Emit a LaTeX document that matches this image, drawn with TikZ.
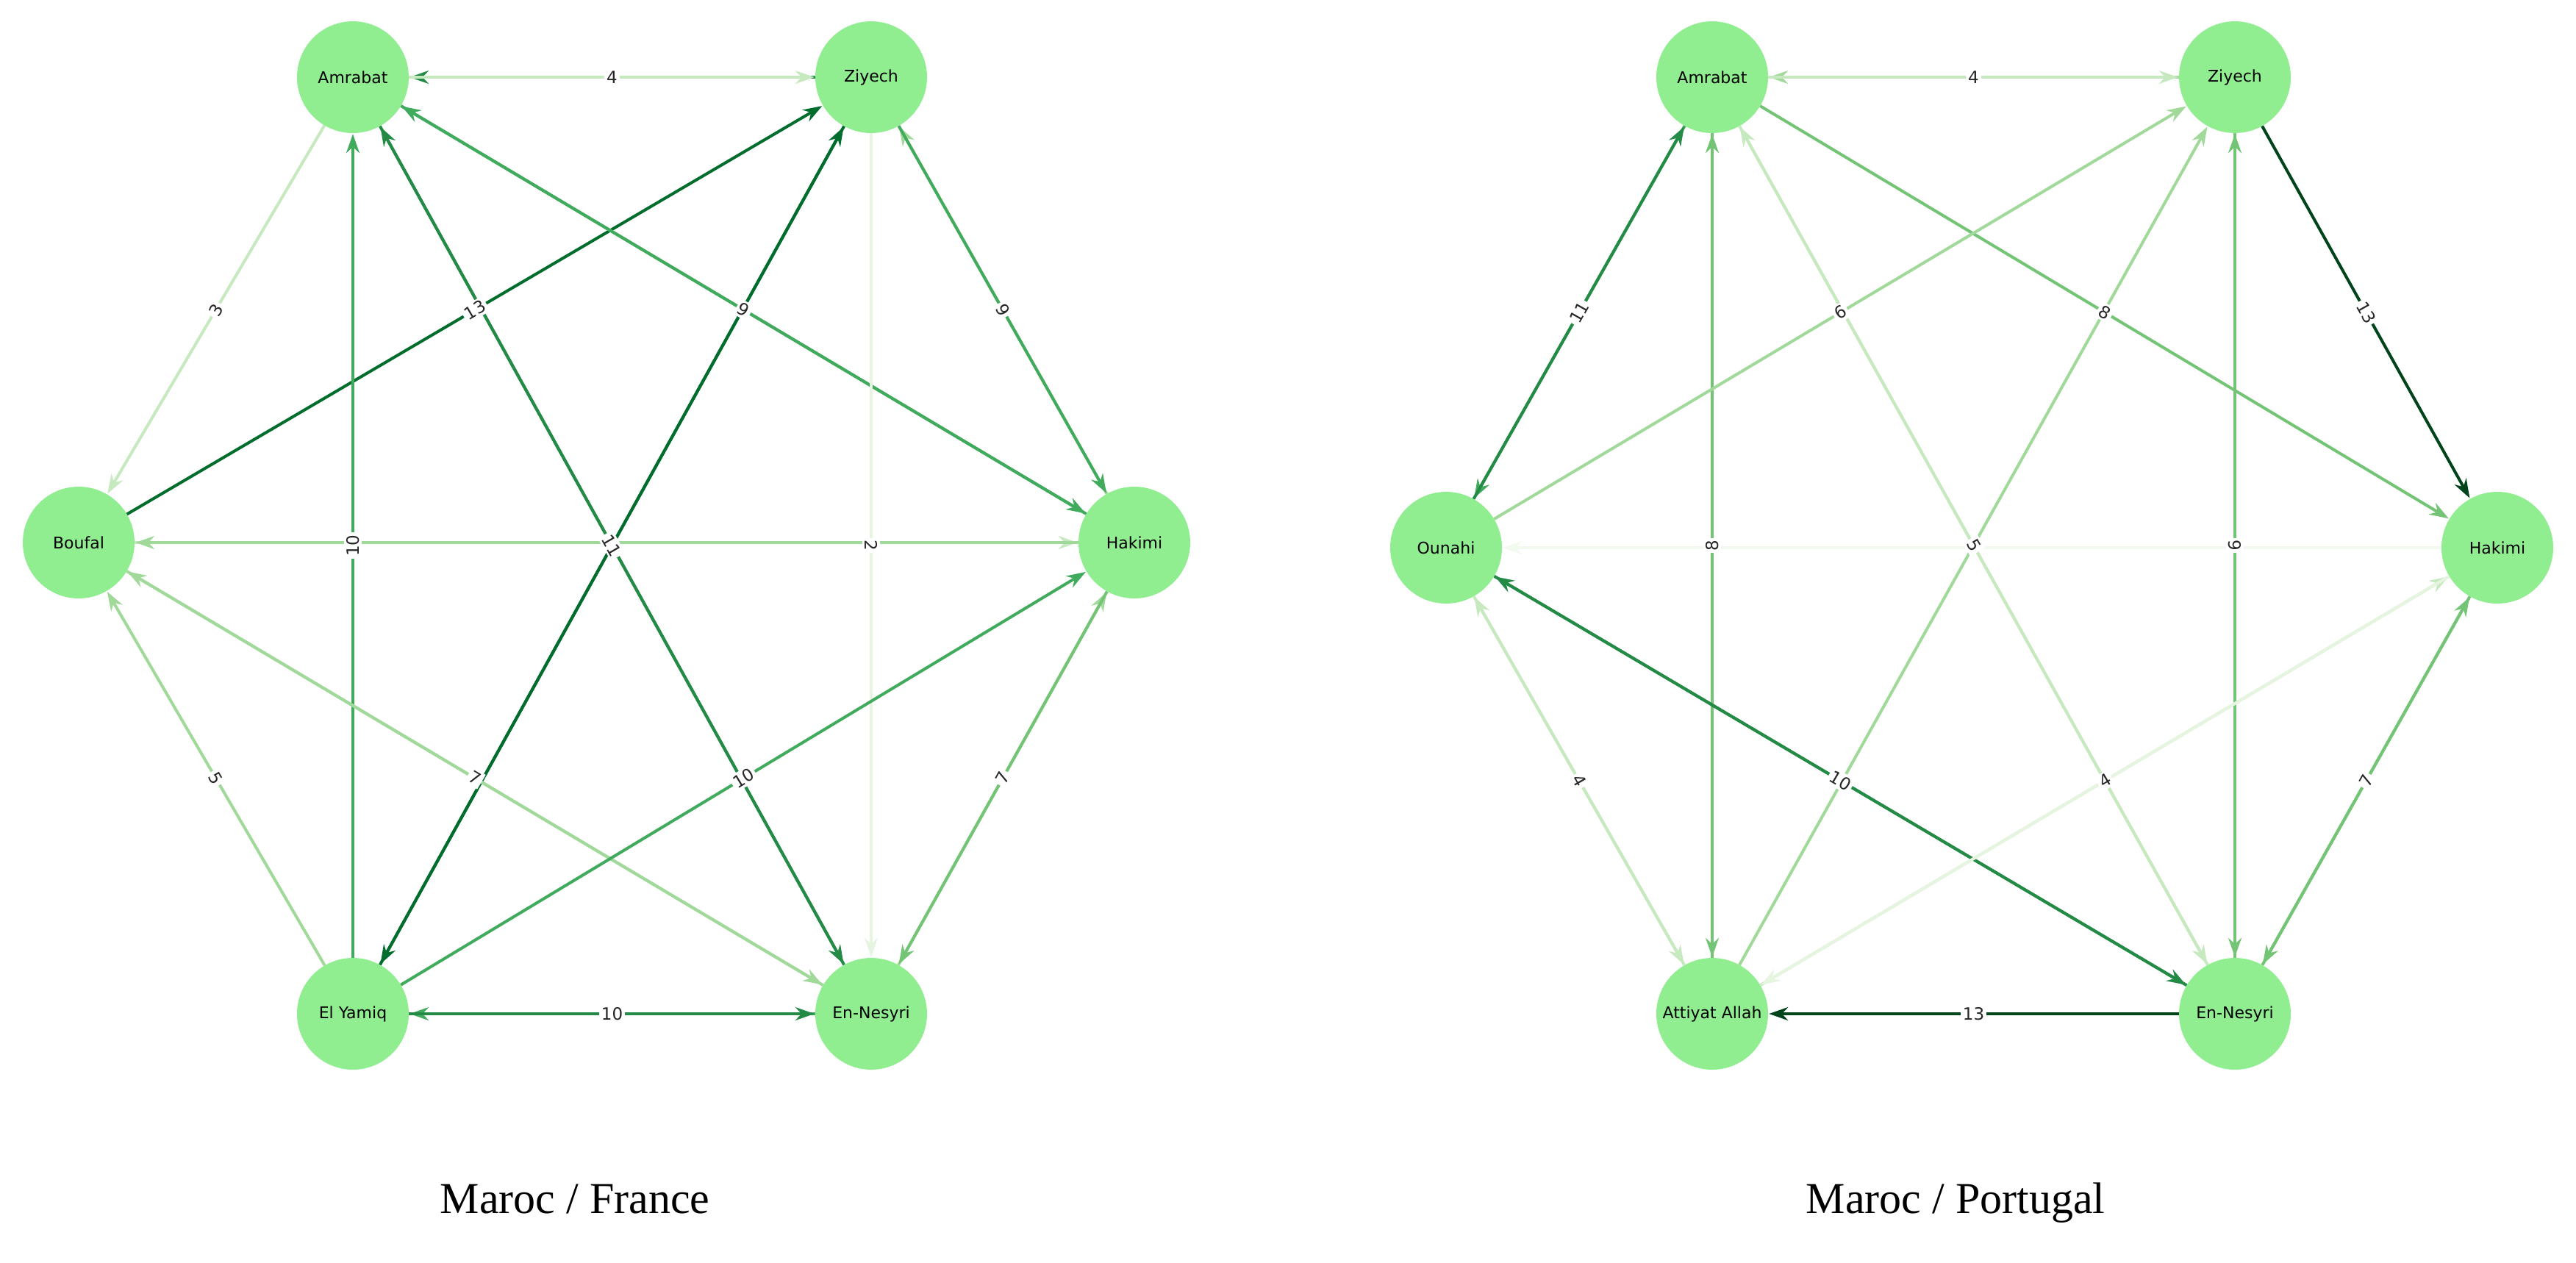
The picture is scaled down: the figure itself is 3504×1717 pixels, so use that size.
\documentclass[tikz,border=0pt]{standalone}
\usepackage{fontspec}
\setmainfont{DejaVu Sans}
\newfontfamily\titlefont{Liberation Serif}
\usetikzlibrary{arrows.meta}
\definecolor{g0}{HTML}{F2FAEF}
\definecolor{g1}{HTML}{E5F5E0}
\definecolor{g2}{HTML}{C7E9C0}
\definecolor{g3}{HTML}{A1D99B}
\definecolor{g4}{HTML}{74C476}
\definecolor{g5}{HTML}{41AB5D}
\definecolor{g6}{HTML}{238B45}
\definecolor{g7}{HTML}{006D2C}
\definecolor{g8}{HTML}{00441B}
\definecolor{nodegreen}{HTML}{90EE90}
\tikzset{
  pl/.style={circle,fill=nodegreen,minimum size=152pt,inner sep=0pt,font=\fontsize{22}{24}\selectfont},
  ed/.style={draw=#1,line width=4pt,-{Stealth[length=26pt,width=18pt]},shorten >=1pt},
  lbb/.style={fill=white,inner sep=3pt,text=black!85,font=\fontsize{23}{25}\selectfont},
  lb/.style={midway,sloped,lbb},
  ttl/.style={font=\titlefont\fontsize{60}{64}\selectfont}}
\begin{document}
\begin{tikzpicture}[x=1pt,y=-1pt]
\useasboundingbox (0,0) rectangle (3504,1717);
% left graph
\node[pl] (LA) at (480,105) {Amrabat};
\node[pl] (LZ) at (1185,105) {Ziyech};
\node[pl] (LB) at (107,738) {Boufal};
\node[pl] (LH) at (1543,738) {Hakimi};
\node[pl] (LY) at (480,1379) {El Yamiq};
\node[pl] (LN) at (1185,1379) {En-Nesyri};
\draw[ed=g6] (LZ) -- (LA);
\draw[ed=g2] (LA) -- (LZ);
\draw[ed=g2] (LA) -- (LB);
\draw[ed=g7] (LB) -- (LZ);
\draw[ed=g5] (LY) -- (LA);
\draw[ed=g6] (LN) -- (LA);
\draw[ed=g6] (LA) -- (LN);
\draw[ed=g5] (LH) -- (LA);
\draw[ed=g5] (LA) -- (LH);
\draw[ed=g7] (LZ) -- (LY);
\draw[ed=g7] (LY) -- (LZ);
\draw[ed=g1] (LZ) -- (LN);
\draw[ed=g3] (LH) -- (LZ);
\draw[ed=g5] (LZ) -- (LH);
\draw[ed=g2] (LB) -- (LH);
\draw[ed=g3] (LH) -- (LB);
\draw[ed=g3] (LB) -- (LN);
\draw[ed=g3] (LN) -- (LB);
\draw[ed=g3] (LY) -- (LB);
\draw[ed=g5] (LY) -- (LH);
\draw[ed=g3] (LN) -- (LH);
\draw[ed=g4] (LH) -- (LN);
\draw[ed=g5] (LN) -- (LY);
\draw[ed=g6] (LY) -- (LN);
% left labels
\path (LA) -- (LZ) node[lb] {4};
\path (LA) -- (LB) node[lb] {3};
\path (LB) -- (LZ) node[lb] {13};
\path (LY) -- (LA) node[lb] {10};
\path (LA) -- (LH) node[lb] {9};
\path (LZ) -- (LN) node[lb] {2};
\path (LZ) -- (LH) node[lb] {9};
\path (LN) -- (LB) node[lb] {7};
\path (LY) -- (LB) node[lb] {5};
\path (LY) -- (LH) node[lb] {10};
\path (LH) -- (LN) node[lb] {7};
\path (LY) -- (LN) node[lb] {10};
\node[lbb,rotate=-60] (LC) at (832,742) {11};
% right graph
\node[pl] (RA) at (2329,105) {Amrabat};
\node[pl] (RZ) at (3040,105) {Ziyech};
\node[pl] (RO) at (1967,745) {Ounahi};
\node[pl] (RH) at (3397,745) {Hakimi};
\node[pl] (RT) at (2329,1379) {Attiyat Allah};
\node[pl] (RN) at (3040,1379) {En-Nesyri};
\draw[ed=g3] (RZ) -- (RA);
\draw[ed=g2] (RA) -- (RZ);
\draw[ed=g5] (RA) -- (RO);
\draw[ed=g6] (RO) -- (RA);
\draw[ed=g4] (RA) -- (RT);
\draw[ed=g4] (RT) -- (RA);
\draw[ed=g2] (RN) -- (RA);
\draw[ed=g2] (RA) -- (RN);
\draw[ed=g4] (RA) -- (RH);
\draw[ed=g3] (RO) -- (RZ);
\draw[ed=g3] (RT) -- (RZ);
\draw[ed=g4] (RN) -- (RZ);
\draw[ed=g4] (RZ) -- (RN);
\draw[ed=g8] (RZ) -- (RH);
\draw[ed=g0] (RH) -- (RO);
\draw[ed=g2] (RT) -- (RO);
\draw[ed=g2] (RO) -- (RT);
\draw[ed=g6] (RN) -- (RO);
\draw[ed=g6] (RO) -- (RN);
\draw[ed=g2] (RT) -- (RH);
\draw[ed=g1] (RH) -- (RT);
\draw[ed=g4] (RN) -- (RH);
\draw[ed=g4] (RH) -- (RN);
\draw[ed=g8] (RN) -- (RT);
% right labels
\path (RA) -- (RZ) node[lb] {4};
\path (RO) -- (RA) node[lb] {11};
\path (RT) -- (RA) node[lb] {8};
\path (RA) -- (RH) node[lb] {8};
\path (RO) -- (RZ) node[lb] {6};
\path (RZ) -- (RN) node[lb] {9};
\path (RZ) -- (RH) node[lb] {13};
\path (RO) -- (RT) node[lb] {4};
\path (RO) -- (RN) node[lb] {10};
\path (RH) -- (RT) node[lb] {4};
\path (RH) -- (RN) node[lb] {7};
\path (RN) -- (RT) node[lb] {13};
\node[lbb,rotate=-60] (RC) at (2685,742) {5};
% titles
\node[ttl,anchor=base] (T1) at (782,1650) {Maroc / France};
\node[ttl,anchor=base] (T2) at (2660,1650) {Maroc / Portugal};
\end{tikzpicture}
\end{document}
